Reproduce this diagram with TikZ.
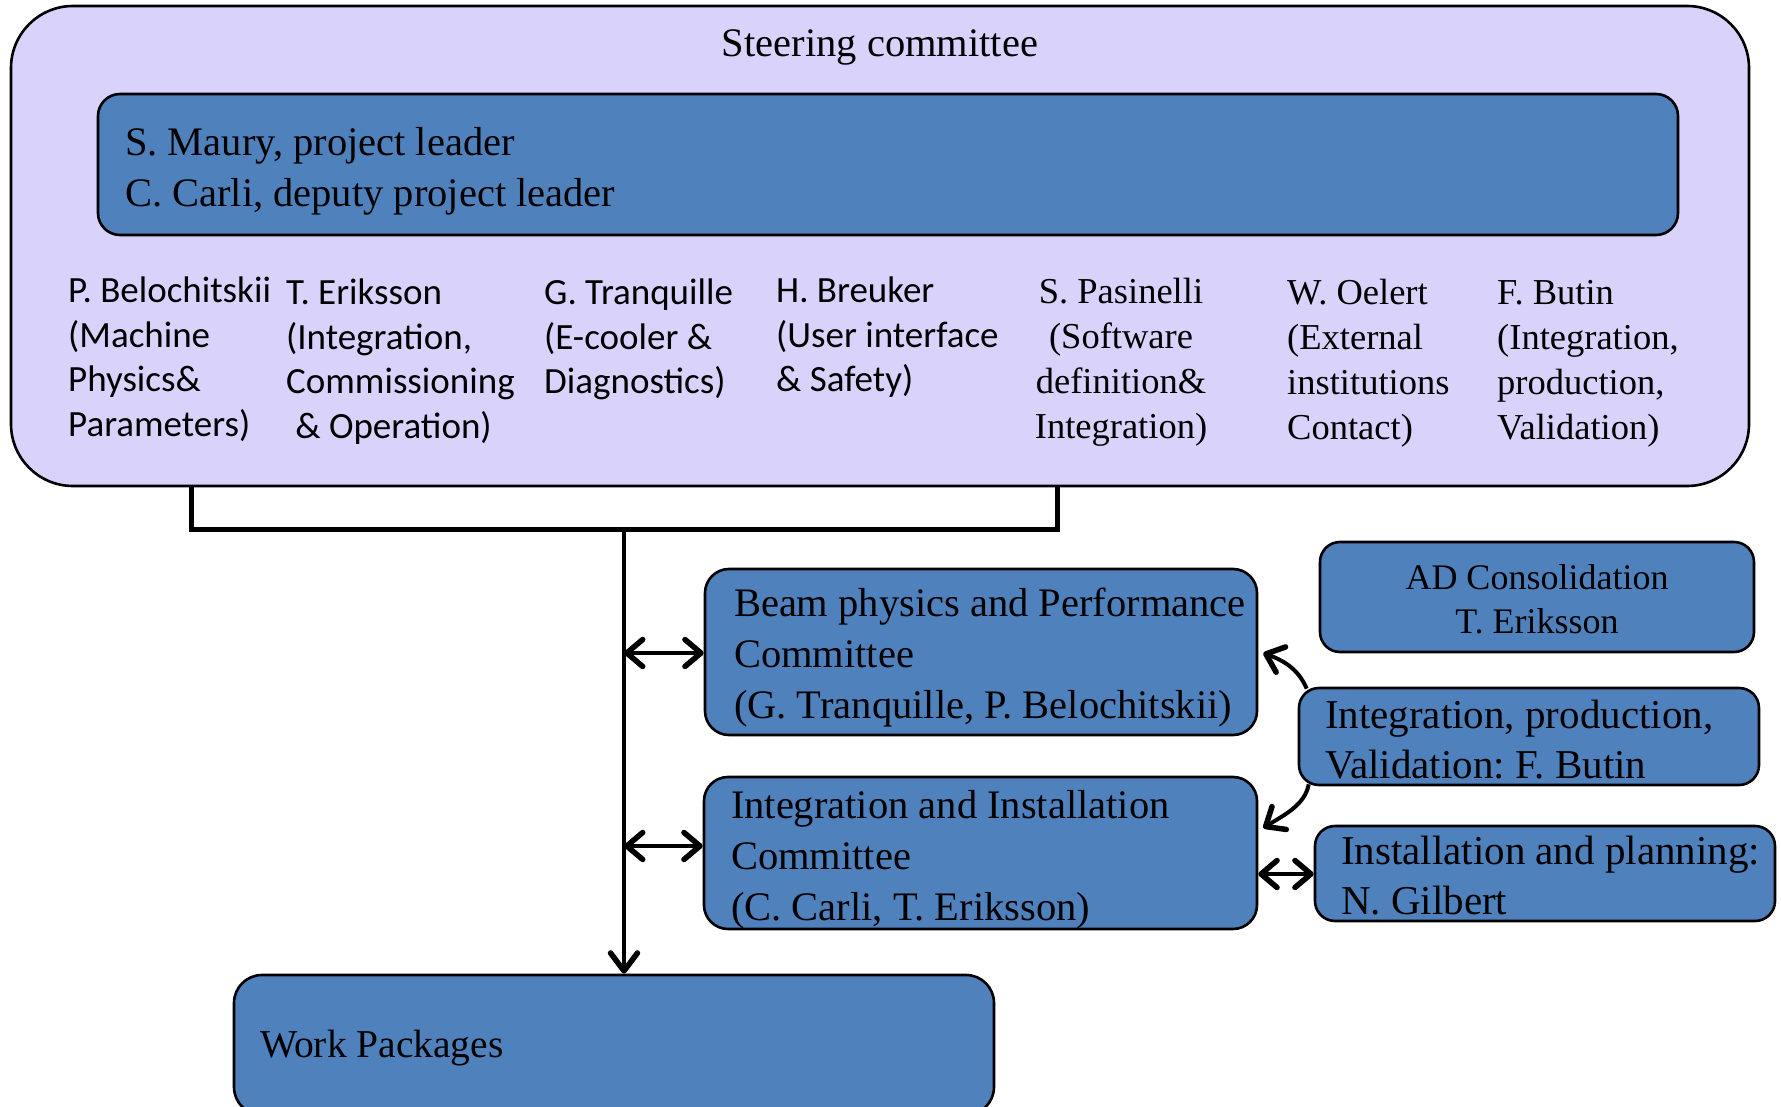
\documentclass[tikz,border=0pt]{standalone}
\usepackage{fontspec}
\setmainfont{Liberation Serif}
\newfontfamily\calib{Carlito}
\usetikzlibrary{arrows.meta,calc}
\definecolor{lav}{RGB}{217,211,252}
\definecolor{boxblue}{RGB}{79,129,189}
\newcommand{\colL}[1]{\begin{tabular}[t]{@{}l@{}}#1\end{tabular}}
\newcommand{\colC}[1]{\begin{tabular}[t]{@{}c@{}}#1\end{tabular}}
\newcommand{\btextL}[2]{\makebox[#1][l]{\colL{#2}}}
\newcommand{\btextC}[2]{\makebox[#1][c]{\colC{#2}}}
\begin{document}
\frenchspacing
\begin{tikzpicture}[x=1pt,y=-1pt,
  bluebox/.style={draw=black, line width=2.6pt, fill=boxblue, rounded corners=20pt, inner ysep=0pt, text height=0pt},
  big/.style={font=\frenchspacing\fontsize{40.5}{51}\selectfont},
  bigb/.style={font=\frenchspacing\fontsize{41}{50}\selectfont},
  small/.style={font=\frenchspacing\fontsize{36}{44}\selectfont},
  sans/.style={font=\frenchspacing\calib\fontsize{37}{44.5}\selectfont, inner sep=0pt, anchor=base west},
  ser/.style={font=\frenchspacing\fontsize{36.5}{45}\selectfont, inner sep=0pt, anchor=base west},
  conn/.style={line width=5pt},
  dbl/.style={line width=4.5pt, {Straight Barb[length=16pt,width=27pt,round,line width=5.5pt]}-{Straight Barb[length=16pt,width=27pt,round,line width=5.5pt]}},
  curv/.style={line width=4pt, -{Straight Barb[length=16pt,width=27pt,round,line width=5.5pt]}}
]
\useasboundingbox (0,0) rectangle (1781,1107);
\clip (0,0) rectangle (1781,1107);

% steering committee
\node[draw=black, line width=2.6pt, fill=lav, rounded corners=62pt, minimum width=1738pt, minimum height=480pt, inner sep=0pt] (steer) at (880,246) {};
\node[anchor=base, font=\fontsize{40.5}{48}\selectfont] (title) at (880,57) {Steering committee};
\node[bluebox, big, rounded corners=22pt, minimum width=1580pt, inner xsep=27pt, minimum height=141pt, text depth=17pt] (lead) at (888,164.5) {\btextL{1526pt}{S. Maury, project leader\\C. Carli, deputy project leader}};

% members
\node[sans] (pb) at (68,303) {\colL{P. Belochitskii\\(Machine\\Physics\&\\Parameters)}};
\node[sans] (te) at (286,305) {\colL{T. Eriksson\\(Integration,\\Commissioning\\\hspace{0.25em}\& Operation)}};
\node[sans] (gt) at (544,305) {\colL{G. Tranquille\\(E-cooler \&\\Diagnostics)}};
\node[sans] (hb) at (776,303) {\colL{H. Breuker\\(User interface\\\& Safety)}};
\node[ser, anchor=base] (sp) at (1121,304) {\colC{S. Pasinelli\\(Software\\definition\&\\Integration)}};
\node[ser] (wo) at (1287,305) {\colL{W. Oelert\\(External\\institutions\\Contact)}};
\node[ser] (fb) at (1497,305) {\colL{F. Butin\\(Integration,\\production,\\Validation)}};

% committees
\node[bluebox, big, minimum width=552pt, inner xsep=29pt, minimum height=166pt, text depth=72pt, rounded corners=24pt] (beam) at (981,652) {\btextL{494pt}{Beam physics and Performance\\Committee\\(G. Tranquille, P. Belochitskii)}};
\node[bluebox, big, minimum width=553pt, inner xsep=27pt, minimum height=152pt, text depth=70pt, rounded corners=24pt] (integ) at (980.5,853) {\btextL{499pt}{Integration and Installation\\Committee\\(C. Carli, T. Eriksson)}};
\node[bluebox, font=\fontsize{39.5}{45}\selectfont, rounded corners=28pt, minimum width=760pt, inner xsep=26pt, minimum height=140pt, text height=24pt, text depth=0pt] (wp) at (614,1045) {\btextL{708pt}{Work Packages}};
\node[bluebox, small, minimum width=434pt, inner xsep=17pt, minimum height=110pt, text depth=16pt] (ad) at (1537,597) {\btextC{400pt}{AD Consolidation\\T. Eriksson}};
\node[bluebox, bigb, minimum width=460pt, inner xsep=26pt, minimum height=97pt, text depth=17pt] (ip) at (1529,736.5) {\btextL{408pt}{Integration, production,\\Validation: F. Butin}};
\node[bluebox, bigb, minimum width=460pt, inner xsep=26pt, minimum height=95pt, text depth=19pt] (inst) at (1545,873.5) {\btextL{408pt}{Installation and planning:\\N. Gilbert}};

% bracket and trunk
\coordinate (bl) at (191,486);
\coordinate (br) at (1057,486);
\coordinate (jn) at (624,529);
\draw[conn] (bl) |- (jn) -| (br);
\draw[line width=4.5pt, -{Straight Barb[length=18pt,width=27pt,round,line width=5.5pt]}] (jn) -- (jn |- wp.north);

% double arrows
\coordinate (t1) at (624,653);
\coordinate (t2) at (624,846);
\coordinate (t3) at (1260,874);
\draw[dbl] (t1) -- (t1 -| beam.west);
\draw[dbl] (t2) -- (t2 -| integ.west);
\draw[dbl] (t3 -| integ.east) -- (t3 -| inst.west);

% curved arrows
\coordinate (ipa) at ($(ip.north west)+(9,2)$);
\coordinate (ipb) at ($(ip.south west)+(11,-2)$);
\draw[curv] (ipa) .. controls (1298,668) and (1282,660) .. ($(beam.east)+(5,1)$);
\draw[curv] (ipb) .. controls (1305,805) and (1284,815) .. ($(integ.east)+(5,-25)$);
\end{tikzpicture}
\end{document}
